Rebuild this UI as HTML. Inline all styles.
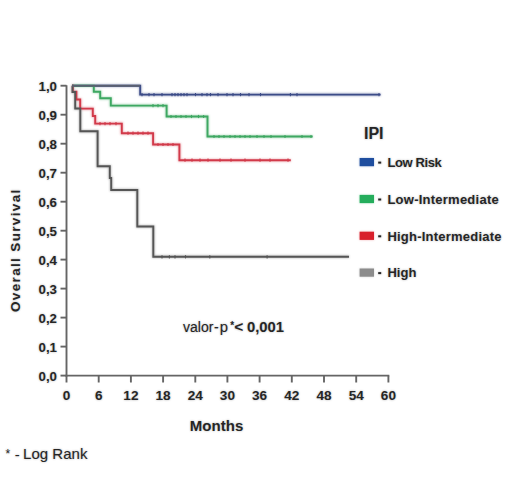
<!DOCTYPE html>
<html><head><meta charset="utf-8"><style>
html,body{margin:0;padding:0;background:#fff;}
body{width:520px;height:484px;overflow:hidden;font-family:"Liberation Sans",sans-serif;}
svg{display:block;}
</style></head><body>
<svg width="520" height="484" viewBox="0 0 520 484">
<rect width="520" height="484" fill="#fff"/>
<g stroke="#656565" stroke-width="1.9" fill="none" stroke-linecap="butt">
<line x1="66.5" y1="85.2" x2="66.5" y2="376.5"/>
<line x1="65.6" y1="375.6" x2="389.3" y2="375.6"/>
<line x1="60.5" y1="375.6" x2="66.5" y2="375.6"/>
<line x1="60.5" y1="346.6" x2="66.5" y2="346.6"/>
<line x1="60.5" y1="317.6" x2="66.5" y2="317.6"/>
<line x1="60.5" y1="288.6" x2="66.5" y2="288.6"/>
<line x1="60.5" y1="259.6" x2="66.5" y2="259.6"/>
<line x1="60.5" y1="230.7" x2="66.5" y2="230.7"/>
<line x1="60.5" y1="201.7" x2="66.5" y2="201.7"/>
<line x1="60.5" y1="172.7" x2="66.5" y2="172.7"/>
<line x1="60.5" y1="143.7" x2="66.5" y2="143.7"/>
<line x1="60.5" y1="114.7" x2="66.5" y2="114.7"/>
<line x1="60.5" y1="85.7" x2="66.5" y2="85.7"/>
<line x1="66.5" y1="375.6" x2="66.5" y2="382.5"/>
<line x1="98.7" y1="375.6" x2="98.7" y2="382.5"/>
<line x1="130.9" y1="375.6" x2="130.9" y2="382.5"/>
<line x1="163.1" y1="375.6" x2="163.1" y2="382.5"/>
<line x1="195.3" y1="375.6" x2="195.3" y2="382.5"/>
<line x1="227.4" y1="375.6" x2="227.4" y2="382.5"/>
<line x1="259.6" y1="375.6" x2="259.6" y2="382.5"/>
<line x1="291.8" y1="375.6" x2="291.8" y2="382.5"/>
<line x1="324.0" y1="375.6" x2="324.0" y2="382.5"/>
<line x1="356.2" y1="375.6" x2="356.2" y2="382.5"/>
<line x1="388.4" y1="375.6" x2="388.4" y2="382.5"/>
</g>
<g style="filter:blur(1px)" opacity="0.45">
<path d="M72.0 85.8 L140.2 85.8 L140.2 94.6 L380.6 94.6" stroke="#3c4c88" stroke-width="2.6" fill="none"/>
<path d="M72.0 85.8 L93.8 85.8 L93.8 91.8 L100.2 91.8 L100.2 98.2 L110.8 98.2 L110.8 105.6 L166.6 105.6 L166.6 116.5 L207.5 116.5 L207.5 136.5 L312.7 136.5" stroke="#3ea862" stroke-width="2.6" fill="none"/>
<path d="M72.0 85.8 L72.8 85.8 L72.8 91.8 L76.4 91.8 L76.4 99.5 L80.2 99.5 L80.2 108.6 L92.8 108.6 L92.8 116.0 L95.2 116.0 L95.2 123.6 L121.8 123.6 L121.8 133.2 L153.1 133.2 L153.1 144.5 L179.4 144.5 L179.4 160.2 L290.8 160.2" stroke="#d23a4a" stroke-width="2.6" fill="none"/>
<path d="M72.0 85.8 L72.5 85.8 L72.5 92.0 L75.2 92.0 L75.2 108.5 L80.3 108.5 L80.3 131.2 L97.6 131.2 L97.6 166.2 L109.8 166.2 L109.8 178.0 L111.2 178.0 L111.2 190.0 L137.3 190.0 L137.3 226.5 L153.3 226.5 L153.3 256.8 L349.0 256.8" stroke="#555555" stroke-width="2.6" fill="none"/>
</g>
<g>
<path d="M72.0 85.8 L140.2 85.8 L140.2 94.6 L380.6 94.6" stroke="#3c4c88" stroke-width="1.9" fill="none"/>
<path d="M72.0 85.8 L93.8 85.8 L93.8 91.8 L100.2 91.8 L100.2 98.2 L110.8 98.2 L110.8 105.6 L166.6 105.6 L166.6 116.5 L207.5 116.5 L207.5 136.5 L312.7 136.5" stroke="#3ea862" stroke-width="1.9" fill="none"/>
<path d="M72.0 85.8 L72.8 85.8 L72.8 91.8 L76.4 91.8 L76.4 99.5 L80.2 99.5 L80.2 108.6 L92.8 108.6 L92.8 116.0 L95.2 116.0 L95.2 123.6 L121.8 123.6 L121.8 133.2 L153.1 133.2 L153.1 144.5 L179.4 144.5 L179.4 160.2 L290.8 160.2" stroke="#d23a4a" stroke-width="1.9" fill="none"/>
<path d="M72.0 85.8 L72.5 85.8 L72.5 92.0 L75.2 92.0 L75.2 108.5 L80.3 108.5 L80.3 131.2 L97.6 131.2 L97.6 166.2 L109.8 166.2 L109.8 178.0 L111.2 178.0 L111.2 190.0 L137.3 190.0 L137.3 226.5 L153.3 226.5 L153.3 256.8 L349.0 256.8" stroke="#555555" stroke-width="1.9" fill="none"/>
<line x1="72" y1="85.8" x2="140.2" y2="85.8" stroke="#5a6070" stroke-width="1.9"/>
<g stroke="#3c4c88" stroke-width="1.1">
<line x1="142.0" y1="93.0" x2="142.0" y2="96.2"/>
<line x1="149.0" y1="93.0" x2="149.0" y2="96.2"/>
<line x1="154.0" y1="93.0" x2="154.0" y2="96.2"/>
<line x1="162.0" y1="93.0" x2="162.0" y2="96.2"/>
<line x1="172.0" y1="93.0" x2="172.0" y2="96.2"/>
<line x1="175.0" y1="93.0" x2="175.0" y2="96.2"/>
<line x1="178.0" y1="93.0" x2="178.0" y2="96.2"/>
<line x1="181.0" y1="93.0" x2="181.0" y2="96.2"/>
<line x1="184.0" y1="93.0" x2="184.0" y2="96.2"/>
<line x1="187.0" y1="93.0" x2="187.0" y2="96.2"/>
<line x1="195.5" y1="93.0" x2="195.5" y2="96.2"/>
<line x1="202.0" y1="93.0" x2="202.0" y2="96.2"/>
<line x1="207.0" y1="93.0" x2="207.0" y2="96.2"/>
<line x1="210.5" y1="93.0" x2="210.5" y2="96.2"/>
<line x1="218.0" y1="93.0" x2="218.0" y2="96.2"/>
<line x1="227.0" y1="93.0" x2="227.0" y2="96.2"/>
<line x1="233.0" y1="93.0" x2="233.0" y2="96.2"/>
<line x1="240.5" y1="93.0" x2="240.5" y2="96.2"/>
<line x1="249.0" y1="93.0" x2="249.0" y2="96.2"/>
<line x1="260.5" y1="93.0" x2="260.5" y2="96.2"/>
<line x1="290.4" y1="93.0" x2="290.4" y2="96.2"/>
<line x1="297.0" y1="93.0" x2="297.0" y2="96.2"/>
<line x1="379.0" y1="93.0" x2="379.0" y2="96.2"/>
</g>
<g stroke="#3ea862" stroke-width="1.1">
<line x1="153.0" y1="104.0" x2="153.0" y2="107.2"/>
<line x1="158.0" y1="104.0" x2="158.0" y2="107.2"/>
<line x1="163.0" y1="104.0" x2="163.0" y2="107.2"/>
<line x1="171.0" y1="114.9" x2="171.0" y2="118.1"/>
<line x1="176.0" y1="114.9" x2="176.0" y2="118.1"/>
<line x1="181.0" y1="114.9" x2="181.0" y2="118.1"/>
<line x1="186.0" y1="114.9" x2="186.0" y2="118.1"/>
<line x1="191.5" y1="114.9" x2="191.5" y2="118.1"/>
<line x1="198.5" y1="114.9" x2="198.5" y2="118.1"/>
<line x1="203.6" y1="114.9" x2="203.6" y2="118.1"/>
<line x1="214.0" y1="134.9" x2="214.0" y2="138.1"/>
<line x1="219.0" y1="134.9" x2="219.0" y2="138.1"/>
<line x1="224.0" y1="134.9" x2="224.0" y2="138.1"/>
<line x1="230.0" y1="134.9" x2="230.0" y2="138.1"/>
<line x1="235.0" y1="134.9" x2="235.0" y2="138.1"/>
<line x1="240.0" y1="134.9" x2="240.0" y2="138.1"/>
<line x1="245.0" y1="134.9" x2="245.0" y2="138.1"/>
<line x1="250.0" y1="134.9" x2="250.0" y2="138.1"/>
<line x1="257.0" y1="134.9" x2="257.0" y2="138.1"/>
<line x1="264.0" y1="134.9" x2="264.0" y2="138.1"/>
<line x1="271.0" y1="134.9" x2="271.0" y2="138.1"/>
<line x1="285.0" y1="134.9" x2="285.0" y2="138.1"/>
<line x1="302.0" y1="134.9" x2="302.0" y2="138.1"/>
<line x1="311.0" y1="134.9" x2="311.0" y2="138.1"/>
</g>
<g stroke="#d23a4a" stroke-width="1.1">
<line x1="100.0" y1="122.0" x2="100.0" y2="125.2"/>
<line x1="105.0" y1="122.0" x2="105.0" y2="125.2"/>
<line x1="110.0" y1="122.0" x2="110.0" y2="125.2"/>
<line x1="116.0" y1="122.0" x2="116.0" y2="125.2"/>
<line x1="128.0" y1="131.6" x2="128.0" y2="134.8"/>
<line x1="133.0" y1="131.6" x2="133.0" y2="134.8"/>
<line x1="138.0" y1="131.6" x2="138.0" y2="134.8"/>
<line x1="143.0" y1="131.6" x2="143.0" y2="134.8"/>
<line x1="148.0" y1="131.6" x2="148.0" y2="134.8"/>
<line x1="158.0" y1="142.9" x2="158.0" y2="146.1"/>
<line x1="163.0" y1="142.9" x2="163.0" y2="146.1"/>
<line x1="168.0" y1="142.9" x2="168.0" y2="146.1"/>
<line x1="173.0" y1="142.9" x2="173.0" y2="146.1"/>
<line x1="185.0" y1="158.6" x2="185.0" y2="161.8"/>
<line x1="192.0" y1="158.6" x2="192.0" y2="161.8"/>
<line x1="200.0" y1="158.6" x2="200.0" y2="161.8"/>
<line x1="208.0" y1="158.6" x2="208.0" y2="161.8"/>
<line x1="220.0" y1="158.6" x2="220.0" y2="161.8"/>
<line x1="231.0" y1="158.6" x2="231.0" y2="161.8"/>
<line x1="245.0" y1="158.6" x2="245.0" y2="161.8"/>
<line x1="260.0" y1="158.6" x2="260.0" y2="161.8"/>
<line x1="270.0" y1="158.6" x2="270.0" y2="161.8"/>
<line x1="288.0" y1="158.6" x2="288.0" y2="161.8"/>
</g>
<g stroke="#555555" stroke-width="1.1">
<line x1="162.0" y1="255.2" x2="162.0" y2="258.4"/>
<line x1="169.4" y1="255.2" x2="169.4" y2="258.4"/>
<line x1="175.0" y1="255.2" x2="175.0" y2="258.4"/>
<line x1="185.5" y1="255.2" x2="185.5" y2="258.4"/>
<line x1="209.8" y1="255.2" x2="209.8" y2="258.4"/>
<line x1="267.1" y1="255.2" x2="267.1" y2="258.4"/>
</g>
</g>
<g font-family="Liberation Sans, sans-serif" font-weight="bold" font-size="13.3" fill="#262626" text-anchor="end">
<text x="57.0" y="381.0">0,0</text>
<text x="57.0" y="352.0">0,1</text>
<text x="57.0" y="323.0">0,2</text>
<text x="57.0" y="294.0">0,3</text>
<text x="57.0" y="265.0">0,4</text>
<text x="57.0" y="236.1">0,5</text>
<text x="57.0" y="207.1">0,6</text>
<text x="57.0" y="178.1">0,7</text>
<text x="57.0" y="149.1">0,8</text>
<text x="57.0" y="120.1">0,9</text>
<text x="57.0" y="91.1">1,0</text>
</g>
<g font-family="Liberation Sans, sans-serif" font-weight="bold" font-size="13.6" fill="#262626" text-anchor="middle">
<text x="66.5" y="400.3">0</text>
<text x="98.7" y="400.3">6</text>
<text x="130.9" y="400.3">12</text>
<text x="163.1" y="400.3">18</text>
<text x="195.3" y="400.3">24</text>
<text x="227.4" y="400.3">30</text>
<text x="259.6" y="400.3">36</text>
<text x="291.8" y="400.3">42</text>
<text x="324.0" y="400.3">48</text>
<text x="356.2" y="400.3">54</text>
<text x="388.4" y="400.3">60</text>
</g>
<text x="216.5" y="430.8" font-family="Liberation Sans, sans-serif" font-weight="bold" font-size="15" fill="#262626" text-anchor="middle" textLength="53.5" lengthAdjust="spacing">Months</text>
<text transform="translate(20.4 250.2) rotate(-90)" font-family="Liberation Sans, sans-serif" font-weight="bold" font-size="13.5" letter-spacing="1.35" fill="#262626" text-anchor="middle">Overall  Survival</text>
<text x="364" y="139" font-family="Liberation Sans, sans-serif" font-weight="bold" font-size="16" fill="#262626">IPI</text>
<rect x="359.6" y="158.0" width="14.4" height="8.2" fill="#1f4e9f"/>
<rect x="378.2" y="161.6" width="3.0" height="2.0" fill="#262626"/>
<text x="387.4" y="166.8" font-family="Liberation Sans, sans-serif" font-weight="bold" font-size="13" fill="#262626" textLength="54.3" lengthAdjust="spacing">Low Risk</text>
<rect x="359.6" y="194.9" width="14.4" height="8.2" fill="#25ad5c"/>
<rect x="378.2" y="198.5" width="3.0" height="2.0" fill="#262626"/>
<text x="387.4" y="203.7" font-family="Liberation Sans, sans-serif" font-weight="bold" font-size="13" fill="#262626" textLength="111.3" lengthAdjust="spacing">Low-Intermediate</text>
<rect x="359.6" y="231.7" width="14.4" height="8.2" fill="#d8202c"/>
<rect x="378.2" y="235.3" width="3.0" height="2.0" fill="#262626"/>
<text x="387.4" y="240.5" font-family="Liberation Sans, sans-serif" font-weight="bold" font-size="13" fill="#262626" textLength="114.2" lengthAdjust="spacing">High-Intermediate</text>
<rect x="359.6" y="268.5" width="14.4" height="8.2" fill="#8c8c8c"/>
<rect x="378.2" y="272.1" width="3.0" height="2.0" fill="#262626"/>
<text x="387.4" y="277.3" font-family="Liberation Sans, sans-serif" font-weight="bold" font-size="13" fill="#262626" textLength="29.0" lengthAdjust="spacing">High</text>
<g font-family="Liberation Sans, sans-serif" fill="#262626">
<text x="183.0" y="331.5" font-size="14" stroke="#262626" stroke-width="0.1">valor<tspan dx="0.7">-</tspan><tspan dx="0.9" font-size="14.8">p</tspan></text>
<text x="230.2" y="328.9" font-size="10" font-weight="bold">*</text>
<text x="234.2" y="331.8" font-size="15.5" font-weight="bold">&lt;</text>
<text x="247.0" y="331.5" font-size="14.8" font-weight="bold">0,001</text>
</g>
<g font-family="Liberation Sans, sans-serif" fill="#262626">
<text x="5.4" y="458.0" font-size="12">*</text>
<text x="14.8" y="459.5" font-size="15">-</text>
<text x="23.0" y="459.3" font-size="15" textLength="64.5" lengthAdjust="spacing" stroke="#262626" stroke-width="0.1">Log Rank</text>
</g>
<g style="filter:blur(1px)" opacity="0.35">
<g font-family="Liberation Sans, sans-serif" font-weight="bold" font-size="13.3" fill="#262626" text-anchor="end">
<text x="57.0" y="381.0">0,0</text>
<text x="57.0" y="352.0">0,1</text>
<text x="57.0" y="323.0">0,2</text>
<text x="57.0" y="294.0">0,3</text>
<text x="57.0" y="265.0">0,4</text>
<text x="57.0" y="236.1">0,5</text>
<text x="57.0" y="207.1">0,6</text>
<text x="57.0" y="178.1">0,7</text>
<text x="57.0" y="149.1">0,8</text>
<text x="57.0" y="120.1">0,9</text>
<text x="57.0" y="91.1">1,0</text>
</g>
<g font-family="Liberation Sans, sans-serif" font-weight="bold" font-size="13.6" fill="#262626" text-anchor="middle">
<text x="66.5" y="400.3">0</text>
<text x="98.7" y="400.3">6</text>
<text x="130.9" y="400.3">12</text>
<text x="163.1" y="400.3">18</text>
<text x="195.3" y="400.3">24</text>
<text x="227.4" y="400.3">30</text>
<text x="259.6" y="400.3">36</text>
<text x="291.8" y="400.3">42</text>
<text x="324.0" y="400.3">48</text>
<text x="356.2" y="400.3">54</text>
<text x="388.4" y="400.3">60</text>
</g>
<text x="216.5" y="430.8" font-family="Liberation Sans, sans-serif" font-weight="bold" font-size="15" fill="#262626" text-anchor="middle" textLength="53.5" lengthAdjust="spacing">Months</text>
<text transform="translate(20.4 250.2) rotate(-90)" font-family="Liberation Sans, sans-serif" font-weight="bold" font-size="13.5" letter-spacing="1.35" fill="#262626" text-anchor="middle">Overall  Survival</text>
<text x="364" y="139" font-family="Liberation Sans, sans-serif" font-weight="bold" font-size="16" fill="#262626">IPI</text>
<rect x="359.6" y="158.0" width="14.4" height="8.2" fill="#1f4e9f"/>
<rect x="378.2" y="161.6" width="3.0" height="2.0" fill="#262626"/>
<text x="387.4" y="166.8" font-family="Liberation Sans, sans-serif" font-weight="bold" font-size="13" fill="#262626" textLength="54.3" lengthAdjust="spacing">Low Risk</text>
<rect x="359.6" y="194.9" width="14.4" height="8.2" fill="#25ad5c"/>
<rect x="378.2" y="198.5" width="3.0" height="2.0" fill="#262626"/>
<text x="387.4" y="203.7" font-family="Liberation Sans, sans-serif" font-weight="bold" font-size="13" fill="#262626" textLength="111.3" lengthAdjust="spacing">Low-Intermediate</text>
<rect x="359.6" y="231.7" width="14.4" height="8.2" fill="#d8202c"/>
<rect x="378.2" y="235.3" width="3.0" height="2.0" fill="#262626"/>
<text x="387.4" y="240.5" font-family="Liberation Sans, sans-serif" font-weight="bold" font-size="13" fill="#262626" textLength="114.2" lengthAdjust="spacing">High-Intermediate</text>
<rect x="359.6" y="268.5" width="14.4" height="8.2" fill="#8c8c8c"/>
<rect x="378.2" y="272.1" width="3.0" height="2.0" fill="#262626"/>
<text x="387.4" y="277.3" font-family="Liberation Sans, sans-serif" font-weight="bold" font-size="13" fill="#262626" textLength="29.0" lengthAdjust="spacing">High</text>
<g font-family="Liberation Sans, sans-serif" fill="#262626">
<text x="183.0" y="331.5" font-size="14" stroke="#262626" stroke-width="0.1">valor<tspan dx="0.7">-</tspan><tspan dx="0.9" font-size="14.8">p</tspan></text>
<text x="230.2" y="328.9" font-size="10" font-weight="bold">*</text>
<text x="234.2" y="331.8" font-size="15.5" font-weight="bold">&lt;</text>
<text x="247.0" y="331.5" font-size="14.8" font-weight="bold">0,001</text>
</g>
<g font-family="Liberation Sans, sans-serif" fill="#262626">
<text x="5.4" y="458.0" font-size="12">*</text>
<text x="14.8" y="459.5" font-size="15">-</text>
<text x="23.0" y="459.3" font-size="15" textLength="64.5" lengthAdjust="spacing" stroke="#262626" stroke-width="0.1">Log Rank</text>
</g>
</g>
</svg>
</body></html>
